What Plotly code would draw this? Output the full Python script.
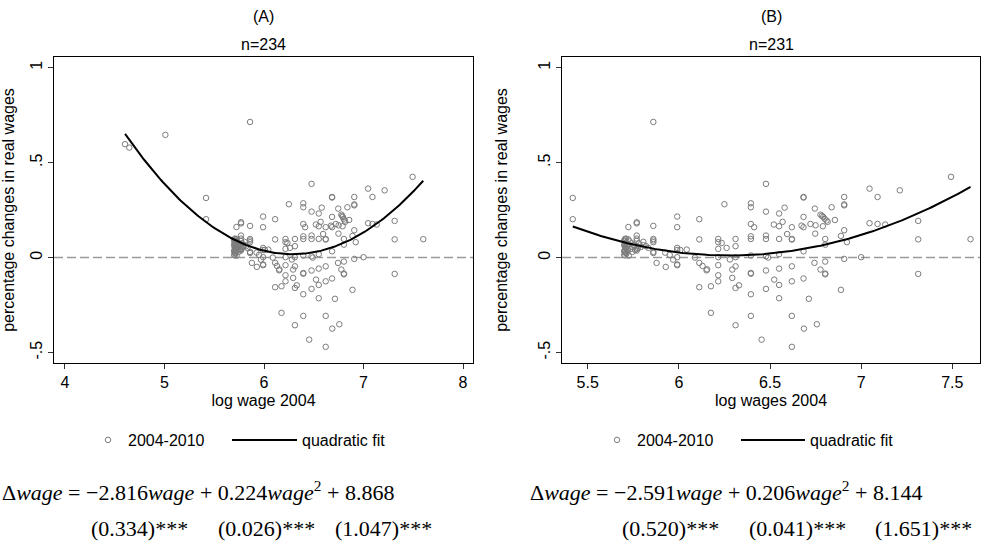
import numpy as np
import plotly.graph_objects as go

W, H = 982, 543

# ---------------- data ----------------
# observations with log wage below 5.3 appear only in panel (A)
wage_low = [4.604, 4.647, 5.009]
chg_low = [0.597, 0.579, 0.646]

# observations common to both panels
wage_common = [
    5.418, 5.418,
    5.705, 5.705, 5.710, 5.705, 5.705, 5.712, 5.705, 5.705, 5.723, 5.723, 5.723, 5.723, 5.712, 5.705, 5.718, 5.730, 5.740, 5.735,
    5.700, 5.700, 5.700, 5.700, 5.710, 5.715, 5.720, 5.725, 5.705, 5.710, 5.755, 5.760, 5.745, 5.790, 5.820,
    5.769, 5.769, 5.769, 5.769, 5.769, 5.769, 5.769, 5.769, 5.775, 5.780, 5.805, 5.805, 5.833,
    5.860, 5.860, 5.860, 5.860, 5.860, 5.860, 5.860, 5.878, 5.928, 5.925, 5.950, 5.969,
    5.991, 5.991, 5.991, 5.991, 5.991, 5.991, 5.991, 6.008, 6.043, 6.088,
    6.112, 6.112, 6.112, 6.112, 6.130, 6.152, 6.155, 6.176, 6.176,
    6.216, 6.216, 6.216, 6.216, 6.216, 6.216, 6.216, 6.235, 6.250, 6.262, 6.280, 6.293, 6.293,
    6.311, 6.311, 6.311, 6.311, 6.311, 6.311, 6.330,
    6.395, 6.395, 6.395, 6.413, 6.395, 6.395, 6.395, 6.395, 6.395, 6.395, 6.395, 6.454,
    6.478, 6.478, 6.478, 6.478, 6.478, 6.490, 6.478, 6.478, 6.523, 6.521,
    6.550, 6.550, 6.550, 6.550, 6.550, 6.550, 6.550, 6.569, 6.580, 6.594,
    6.620, 6.620, 6.620, 6.620, 6.620, 6.620, 6.620,
    6.673, 6.684, 6.684, 6.684, 6.684, 6.684, 6.684, 6.686, 6.713, 6.722,
    6.744, 6.746, 6.748, 6.750, 6.757, 6.777, 6.777, 6.792, 6.790, 6.800, 6.785, 6.810,
    6.803, 6.803, 6.803, 6.803, 6.803, 6.816, 6.838, 6.856, 6.889, 6.889,
    6.907, 6.907, 6.907, 6.907, 6.907, 6.922, 7.000,
    7.046, 7.046, 7.090, 7.090, 7.132, 7.212, 7.313, 7.313, 7.313, 7.493, 7.600,
]
chg_common = [
    0.314, 0.202,
    0.098, 0.088, 0.080, 0.070, 0.055, 0.047, 0.030, 0.011, 0.096, 0.070, 0.052, 0.161, 0.020, 0.040, 0.062, 0.085, 0.075, 0.045,
    0.065, 0.035, 0.015, 0.090, 0.025, 0.058, 0.040, 0.010, 0.075, 0.100, 0.065, 0.040, 0.030, 0.055, 0.060,
    0.186, 0.180, 0.116, 0.100, 0.088, 0.060, 0.045, 0.037, 0.050, 0.075, 0.083, 0.065, 0.051,
    0.714, 0.167, 0.098, 0.090, 0.081, 0.024, 0.030, -0.028, -0.049, 0.026, 0.014, -0.011,
    0.216, 0.160, 0.051, 0.040, 0.002, -0.040, -0.036, 0.040, 0.042, 0.000,
    0.202, 0.096, -0.028, -0.156, -0.044, -0.067, -0.062, -0.151, -0.291,
    0.098, 0.081, 0.046, 0.002, -0.040, -0.093, -0.125, 0.077, 0.281, 0.051, -0.010, -0.063, -0.107,
    0.098, 0.060, 0.002, -0.046, -0.160, -0.356, -0.146,
    0.286, 0.265, 0.177, 0.160, 0.112, 0.098, 0.011, -0.081, -0.085, -0.193, -0.307, -0.432,
    0.388, 0.242, 0.116, 0.098, 0.007, 0.000, -0.068, -0.165, -0.116, 0.174,
    0.232, 0.165, 0.098, 0.018, -0.058, -0.144, -0.214, 0.188, 0.263, 0.124,
    0.160, 0.098, 0.095, -0.046, -0.125, -0.307, -0.470,
    0.168, 0.319, 0.316, 0.214, 0.160, 0.033, -0.110, -0.374, -0.217, 0.177,
    -0.028, 0.258, 0.126, 0.170, -0.351, 0.226, -0.063, 0.214, 0.165, 0.204, 0.220, 0.195,
    0.098, 0.068, -0.021, -0.084, -0.088, 0.188, 0.265, 0.198, 0.114, -0.170,
    0.319, 0.280, 0.275, 0.144, -0.007, 0.081, 0.002,
    0.363, 0.181, 0.319, 0.177, 0.174, 0.354, 0.193, 0.096, -0.086, 0.425, 0.097,
]

# quadratic fit coefficients (constant, wage, wage^2); printed rounded to 3 decimals
coef_A = [8.868, -2.816, 0.224]
coef_B = [8.1444, -2.5913, 0.2064]
se_A = ["(0.334)***", "(0.026)***", "(1.047)***"]
se_B = ["(0.520)***", "(0.041)***", "(1.651)***"]

panel_titles = ["(A)", "(B)"]
panel_n = ["n=234", "n=231"]
x_titles = ["log wage 2004", "log wages 2004"]
y_title = "percentage changes in real wages"
series_name = "2004-2010"
fit_name = "quadratic fit"

xA_ticks = [4, 5, 6, 7, 8]
xB_ticks = [5.5, 6, 6.5, 7, 7.5]
xB_ticktext = ["5.5", "6", "6.5", "7", "7.5"]
y_ticks = [-0.5, 0, 0.5, 1]
y_ticktext = ["-.5", "0", ".5", "1"]

# ---------------- figure ----------------
SANS = "Liberation Sans, Arial, sans-serif"
SERIF = "Liberation Serif, Times New Roman, serif"
GRAY = "#7c7c7c"

xA = wage_low + wage_common
yA = chg_low + chg_common
xB = wage_common
yB = chg_common


def fit_curve(xs, c):
    g = np.linspace(min(xs), max(xs), 200)
    return g, c[0] + c[1] * g + c[2] * g ** 2


fig = go.Figure()
mk = dict(symbol="circle-open", size=5.5, color=GRAY, line=dict(width=1, color=GRAY))

fig.add_trace(go.Scatter(x=xA, y=yA, mode="markers", marker=mk, name=series_name,
                         xaxis="x", yaxis="y", legend="legend"))
gx, gy = fit_curve(xA, coef_A)
fig.add_trace(go.Scatter(x=gx, y=gy, mode="lines", line=dict(color="black", width=2),
                         name=fit_name, xaxis="x", yaxis="y", legend="legend2"))
fig.add_trace(go.Scatter(x=xB, y=yB, mode="markers", marker=mk, name=series_name,
                         xaxis="x2", yaxis="y2", legend="legend3"))
gx, gy = fit_curve(xB, coef_B)
fig.add_trace(go.Scatter(x=gx, y=gy, mode="lines", line=dict(color="black", width=2),
                         name=fit_name, xaxis="x2", yaxis="y2", legend="legend4"))

ydom = [1 - 363 / H, 1 - 57 / H]
axis_common = dict(showgrid=False, zeroline=False, showline=True, mirror=True,
                   linecolor="black", linewidth=1.2, ticks="outside", ticklen=5,
                   tickcolor="#333", tickwidth=1.2,
                   tickfont=dict(family=SANS, size=16, color="black"))

fig.update_layout(
    width=W, height=H, margin=dict(l=0, r=0, t=0, b=0, autoexpand=False),
    paper_bgcolor="white", plot_bgcolor="white",
    font=dict(family=SANS, size=16, color="black"),
    xaxis=dict(domain=[54 / W, 473 / W], anchor="y", range=[3.89, 8.10], tickvals=xA_ticks,
               title=dict(text=x_titles[0], font=dict(size=16), standoff=4), **axis_common),
    yaxis=dict(domain=ydom, anchor="x", range=[-0.555, 1.056], tickvals=y_ticks,
               ticktext=y_ticktext, tickangle=-90,
               title=dict(text=y_title, font=dict(size=16), standoff=10), **axis_common),
    xaxis2=dict(domain=[562 / W, 980 / W], anchor="y2", range=[5.359, 7.652], tickvals=xB_ticks,
                ticktext=xB_ticktext,
                title=dict(text=x_titles[1], font=dict(size=16), standoff=4), **axis_common),
    yaxis2=dict(domain=ydom, anchor="x2", range=[-0.555, 1.056], tickvals=y_ticks,
                ticktext=y_ticktext, tickangle=-90,
                title=dict(text=y_title, font=dict(size=16), standoff=23), **axis_common),
    showlegend=True,
)

leg_common = dict(orientation="h", yanchor="middle", xanchor="left", y=1 - 440 / H,
                  font=dict(family=SANS, size=16, color="black"), bgcolor="rgba(0,0,0,0)",
                  borderwidth=0)
fig.update_layout(
    legend=dict(x=88 / W, itemwidth=30, **leg_common),
    legend2=dict(x=227 / W, itemwidth=65, **leg_common),
    legend3=dict(x=597 / W, itemwidth=30, **leg_common),
    legend4=dict(x=736 / W, itemwidth=64, **leg_common),
)

# zero reference lines
for xr, yr in (("x domain", "y"), ("x2 domain", "y2")):
    fig.add_shape(type="line", xref=xr, yref=yr, x0=0, x1=1, y0=0, y1=0, layer="below",
                  line=dict(color="#9a9a9a", width=1.5, dash="9px,4px"))

# panel titles
for cx, t, n in ((263.5 / W, panel_titles[0], panel_n[0]), (771 / W, panel_titles[1], panel_n[1])):
    fig.add_annotation(x=cx, y=1 - 16 / H, xref="paper", yref="paper", text=t, showarrow=False,
                       font=dict(family=SANS, size=16), xanchor="center", yanchor="middle")
    fig.add_annotation(x=cx, y=1 - 44 / H, xref="paper", yref="paper", text=n, showarrow=False,
                       font=dict(family=SANS, size=16), xanchor="center", yanchor="middle")


def eq_text(c):
    return ("Δ<i>wage</i> = −%.3f<i>wage</i> + %.3f<i>wage</i><sup>2</sup> + %.3f"
            % (-c[1], c[2], c[0]))


for x0, c, se, sx in ((0, coef_A, se_A, (89, 216, 333)), (528, coef_B, se_B, (620, 747, 873))):
    fig.add_annotation(x=x0 / W, y=1 - 491 / H, xref="paper", yref="paper", text=eq_text(c),
                       showarrow=False, xanchor="left", yanchor="middle",
                       font=dict(family=SERIF, size=22, color="black"))
    for s, px in zip(se, sx):
        fig.add_annotation(x=px / W, y=1 - 528 / H, xref="paper", yref="paper", text=s,
                           showarrow=False, xanchor="left", yanchor="middle",
                           font=dict(family=SERIF, size=22, color="black"))

fig.write_html("out.html", config={"displayModeBar": False},
               post_script="document.body.style.margin='0';document.body.style.padding='0';")
